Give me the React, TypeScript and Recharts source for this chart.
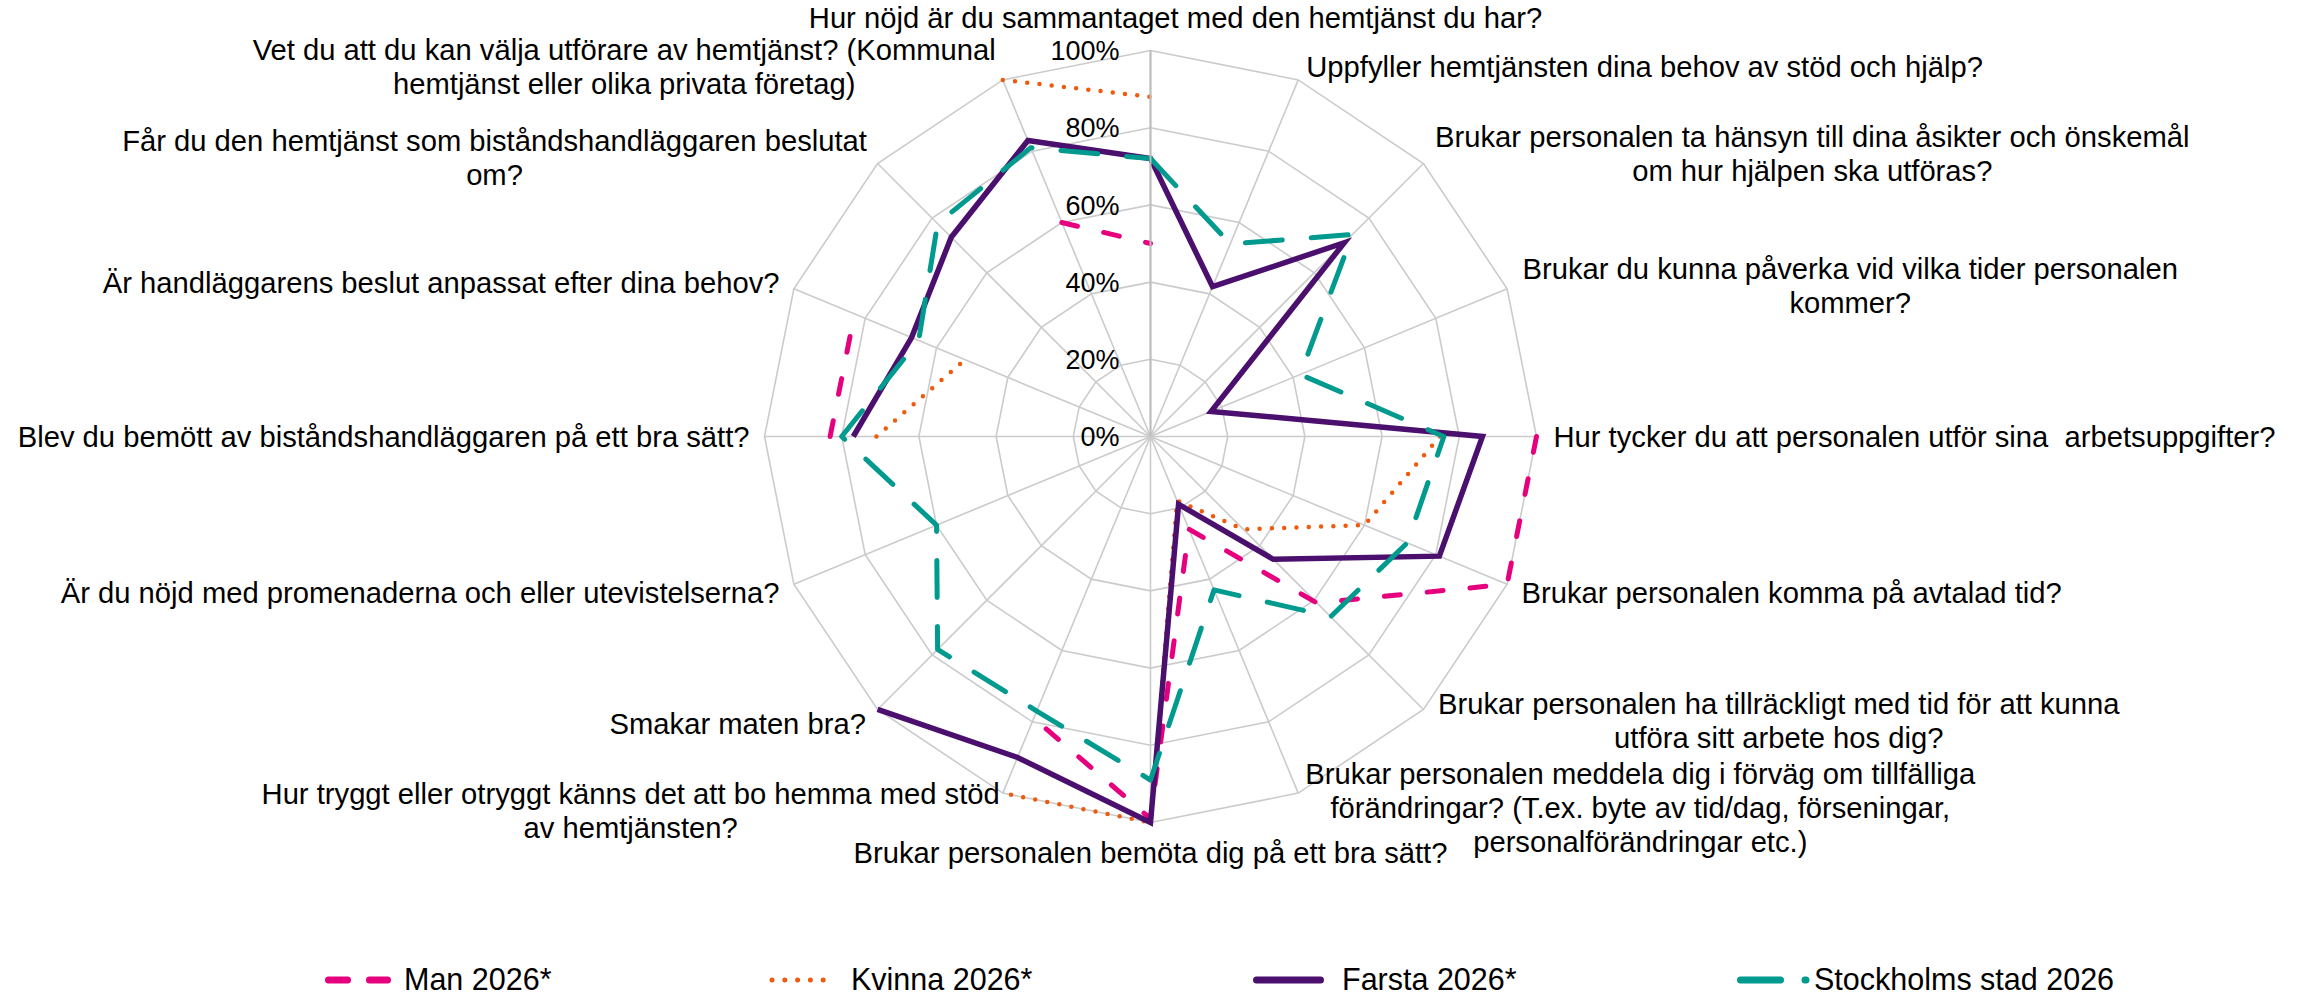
import { RadarChart, Radar, PolarGrid, PolarAngleAxis, PolarRadiusAxis } from "recharts";

document.body.style.margin = "0";

const FONT = '"Liberation Sans", Arial, Helvetica, sans-serif';

// questions, clockwise from the top
const CATEGORIES = [
  "Hur nöjd är du sammantaget med den hemtjänst du har?",
  "Uppfyller hemtjänsten dina behov av stöd och hjälp?",
  "Brukar personalen ta hänsyn till dina åsikter och önskemål\nom hur hjälpen ska utföras?",
  "Brukar du kunna påverka vid vilka tider personalen\nkommer?",
  "Hur tycker du att personalen utför sina  arbetsuppgifter?",
  "Brukar personalen komma på avtalad tid?",
  "Brukar personalen ha tillräckligt med tid för att kunna\nutföra sitt arbete hos dig?",
  "Brukar personalen meddela dig i förväg om tillfälliga\nförändringar? (T.ex. byte av tid/dag, förseningar,\npersonalförändringar etc.)",
  "Brukar personalen bemöta dig på ett bra sätt?",
  "Hur tryggt eller otryggt känns det att bo hemma med stöd\nav hemtjänsten?",
  "Smakar maten bra?",
  "Är du nöjd med promenaderna och eller utevistelserna?",
  "Blev du bemött av biståndshandläggaren på ett bra sätt?",
  "Är handläggarens beslut anpassat efter dina behov?",
  "Får du den hemtjänst som biståndshandläggaren beslutat\nom?",
  "Vet du att du kan välja utförare av hemtjänst? (Kommunal\nhemtjänst eller olika privata företag)",
];

// percent, null = no answer shown
const MAN = [50, null, null, null, 100, 100, 61, 26, 99, 79, null, null, 83, 83, null, 60];
const KVINNA = [88, null, null, null, 75, 60, 34, 18, 100, 100, null, null, 71, 52, null, 100];
const FARSTA = [72, 42, 71, 17, 86, 81, 45, 19, 100, 90, 100, null, 77, 67, 73, 83];
const STHLM = [72, 54, 74, 42, 76, 72, 66, 43, 89, 77, 78, 60, 80, 65, 78, 81];

const TICKS = [0, 20, 40, 60, 80, 100];

const SERIES = [
  { key: "man", name: "Man 2026*", values: MAN, color: "#E6007E", width: 5, dash: "16 27", cap: "round", join: "round" },
  { key: "kvinna", name: "Kvinna 2026*", values: KVINNA, color: "#EE5A0E", width: 4.5, dash: "0 12.3", cap: "round", join: "round" },
  { key: "farsta", name: "Farsta 2026*", values: FARSTA, color: "#4B0F6E", width: 5.5, dash: undefined, cap: "butt", join: "miter" },
  { key: "sthlm", name: "Stockholms stad 2026", values: STHLM, color: "#009A8E", width: 5, dash: "37 29", cap: "round", join: "round" },
];

const data = CATEGORIES.map((label, i) => {
  const row: any = { label };
  SERIES.forEach((s) => (row[s.key] = s.values[i]));
  return row;
});

// label placement: anchor side, offset from the axis tick point
const LABEL_LAYOUT: [string, number, number][] = [
  ["middle", 25, -25],
  ["start", 5, -6],
  ["start", 6, -4],
  ["start", 8, 0],
  ["start", 9, 0],
  ["start", 7, 5],
  ["start", 9, 5],
  ["start", 4, 7],
  ["middle", 0, 22],
  ["end", 0, 10],
  ["end", -6, 8],
  ["end", -7, 5],
  ["end", -7, 0],
  ["end", -7, -3],
  ["end", -5, 0],
  ["end", -4, -6],
];

const LABEL_SIZE = 29.2;
const LINE_H = 34;

let ctx: any = null;
function textWidth(t: string, size: number) {
  if (!ctx) ctx = document.createElement("canvas").getContext("2d");
  ctx.font = `${size}px ${FONT}`;
  return ctx.measureText(t).width;
}

function CategoryTick(props: any) {
  const { x, y, payload } = props;
  let i = typeof props.index === "number" ? props.index : -1;
  if (CATEGORIES[i] !== payload?.value) i = CATEGORIES.indexOf(payload?.value);
  if (i < 0) return null;
  const lines = CATEGORIES[i].split("\n");
  const [anchor, dx, dy] = LABEL_LAYOUT[i];
  const boxW = Math.max(...lines.map((l) => textWidth(l, LABEL_SIZE)));
  let mid = x + dx;
  if (anchor === "start") mid = x + dx + boxW / 2;
  if (anchor === "end") mid = x + dx - boxW / 2;
  const top = y + dy - ((lines.length - 1) * LINE_H) / 2 + LABEL_SIZE * 0.36;
  return (
    <text textAnchor="middle" fontSize={LABEL_SIZE} fontFamily={FONT} fill="#000" style={{ whiteSpace: "pre" }}>
      {lines.map((l, k) => (
        <tspan key={k} x={mid} y={top + k * LINE_H}>
          {l}
        </tspan>
      ))}
    </text>
  );
}

function RadiusTick(props: any) {
  const { x, y, payload } = props;
  return (
    <text x={x - 31} y={y + 9.6} textAnchor="end" fontSize={27} fontFamily={FONT} fill="#000">
      {`${payload.value}%`}
    </text>
  );
}

// Excel-like: only draw segments between neighbouring points that both have a value
function buildPath(points: any[]) {
  const n = points.length;
  const ok = points.map((p) => p != null && p.value != null && Number.isFinite(p.x) && Number.isFinite(p.y));
  const xy = (p: any) => `${p.x.toFixed(2)},${p.y.toFixed(2)}`;
  if (n === 0) return "";
  if (ok.every(Boolean)) return "M" + points.map(xy).join("L") + "Z";
  const gap = ok.indexOf(false);
  let d = "";
  let run: any[] = [];
  const flush = () => {
    if (run.length > 1) d += "M" + run.map(xy).join("L");
    run = [];
  };
  for (let k = 1; k <= n; k++) {
    const i = (gap + k) % n;
    if (ok[i]) run.push(points[i]);
    else flush();
  }
  flush();
  return d;
}

function seriesShape(s: any) {
  return (props: any) => (
    <path
      d={buildPath(props.points || [])}
      fill="none"
      stroke={s.color}
      strokeWidth={s.width}
      strokeDasharray={s.dash}
      strokeLinecap={s.cap}
      strokeLinejoin={s.join}
    />
  );
}

const LEGEND = [
  { x1: 328.5, x2: 387.5, text: 404, width: 7, dash: "19 22" },
  { x1: 772, x2: 836, text: 851, width: 5, dash: "0 12.8" },
  { x1: 1256.5, x2: 1320.5, text: 1342, width: 7, dash: undefined },
  { x1: 1740.5, x2: 1806, text: 1814, width: 7, dash: "40 24.5" },
];

function Legend2() {
  return (
    <svg width={2305} height={997} style={{ position: "absolute", left: 0, top: 0, pointerEvents: "none" }}>
      {SERIES.map((s, i) => {
        const l = LEGEND[i];
        return (
          <g key={s.key}>
            <line x1={l.x1} x2={l.x2} y1={980} y2={980} stroke={s.color} strokeWidth={l.width} strokeDasharray={l.dash} strokeLinecap="round" />
            <text x={l.text} y={990} fontSize={30.5} fontFamily={FONT} fill="#000">
              {s.name}
            </text>
          </g>
        );
      })}
    </svg>
  );
}

export default function App() {
  return (
    <div style={{ position: "relative", width: 2305, height: 997, background: "#fff" }}>
      <RadarChart
        width={2305}
        height={997}
        cx={1150.5}
        cy={436.5}
        outerRadius={386}
        data={data}
        margin={{ top: 0, right: 0, bottom: 0, left: 0 }}
      >
        <PolarGrid gridType="polygon" stroke="#cbcbcb" strokeWidth={1.6} />
        <PolarAngleAxis dataKey="label" tick={CategoryTick} tickLine={false} axisLine={false} tickSize={8} />
        <PolarRadiusAxis
          angle={90}
          type="number"
          domain={[0, 100]}
          ticks={TICKS}
          tickCount={6}
          tick={RadiusTick}
          tickLine={false}
          axisLine={{ stroke: "#bdbdbd", strokeWidth: 2 }}
        />
        {SERIES.map((s) => (
          <Radar
            key={s.key}
            name={s.name}
            dataKey={s.key}
            stroke={s.color}
            fill="none"
            fillOpacity={0}
            dot={false}
            isAnimationActive={false}
            shape={seriesShape(s)}
          />
        ))}
      </RadarChart>
      <Legend2 />
    </div>
  );
}
